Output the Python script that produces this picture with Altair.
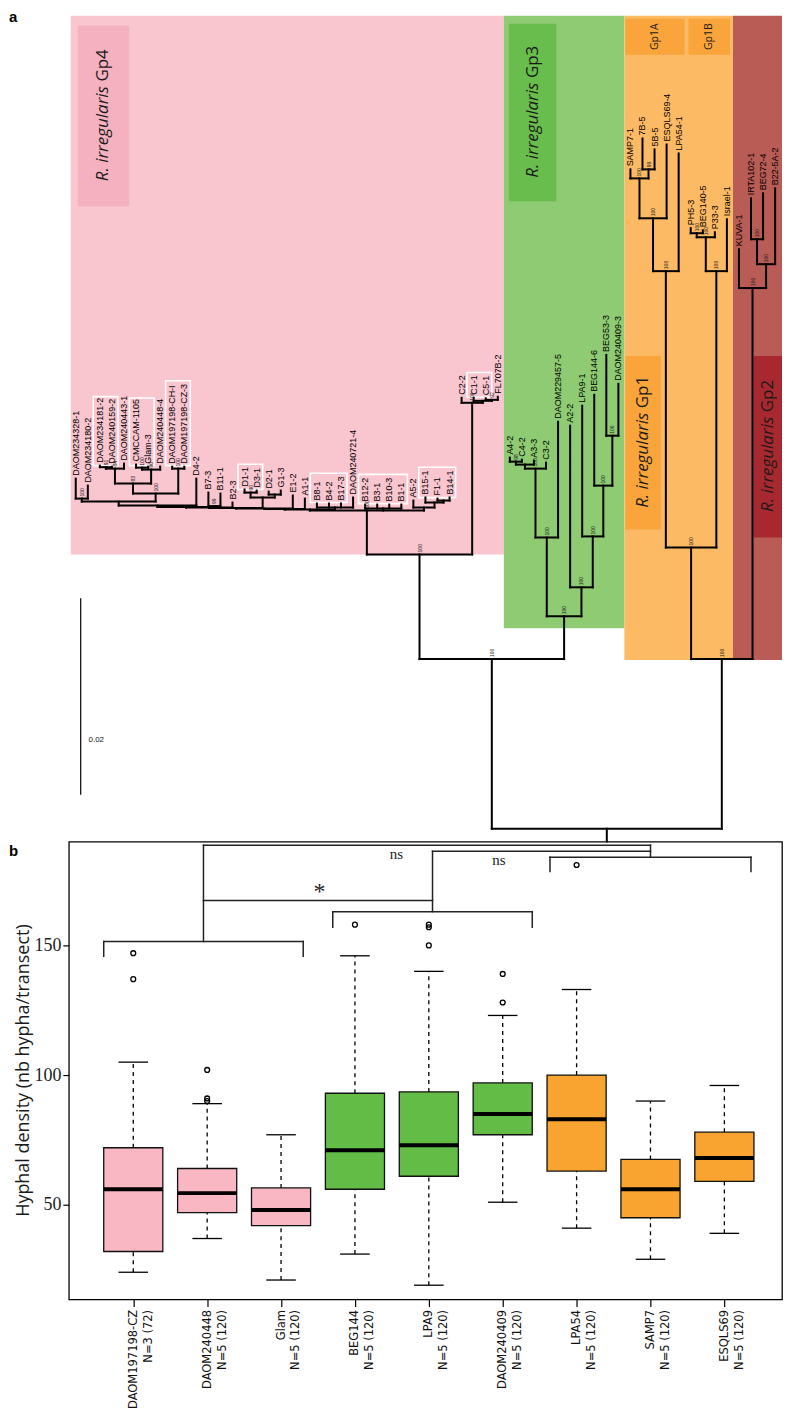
import altair as alt
import pandas as pd

# ===================== panel a : phylogeny =====================
leaf_names = [
    "DAOM234328-1", "DAOM234180-2", "DAOM234181-2", "DAOM240159-2", "DAOM240443-1",
    "CMCCAM-1105", "Glam-3", "DAOM240448-4", "DAOM197198-CH-I", "DAOM197198-CZ-3",
    "D4-2", "B7-3", "B11-1", "B2-3", "D1-1", "D3-1", "D2-1", "G1-3", "E1-2", "A1-1",
    "B8-1", "B4-2", "B17-3", "DAOM240721-4", "B12-2", "B3-1", "B10-3", "B1-1",
    "A5-2", "B15-1", "F1-1", "B14-1", "C2-2", "C1-1", "C5-1", "FL707B-2",
    "A4-2", "C4-2", "A3-3", "C3-2", "DAOM229457-5", "A2-2", "LPA9-1", "BEG144-6",
    "BEG53-3", "DAOM240409-3",
    "SAMP7-1", "7B-5", "5B-5", "ESQLS69-4", "LPA54-1", "PH5-3", "BEG140-5", "P33-3",
    "Israel-1", "KUVA-1", "IRTA102-1", "BEG72-4", "B22-5A-2",
]
# distance of every tip from the root (substitutions / site)
leaf_dist = [
    0.03563, 0.03492, 0.03695, 0.03685, 0.03716,
    0.03706, 0.03685, 0.03685, 0.03685, 0.03685,
    0.03563, 0.03421, 0.03411, 0.03320, 0.03452, 0.03442, 0.03431, 0.03442, 0.03391, 0.03360,
    0.03310, 0.03310, 0.03310, 0.03371, 0.03299, 0.03299, 0.03299, 0.03299,
    0.03340, 0.03371, 0.03360, 0.03371, 0.04386, 0.04386, 0.04381, 0.04396,
    0.03777, 0.03756, 0.03746, 0.03726, 0.04142, 0.04102, 0.04305, 0.04416,
    0.04822, 0.04528,
    0.06711, 0.07025, 0.06914, 0.06964, 0.06873, 0.06112, 0.06091, 0.06071,
    0.06203, 0.05898, 0.06416, 0.06467, 0.06518,
]
# internal nodes: (name, children, distance from root, bootstrap)
internal_nodes = [
    ("P1", ["DAOM234328-1", "DAOM234180-2"], 0.03360, "100"),
    ("P2a", ["DAOM234181-2", "DAOM240159-2"], 0.03680, "91"),
    ("P2", ["P2a", "DAOM240443-1"], 0.03665, "84"),
    ("P3a", ["CMCCAM-1105", "Glam-3"], 0.03675, "100"),
    ("P3", ["P3a", "DAOM240448-4"], 0.03655, "90"),
    ("P4", ["DAOM197198-CH-I", "DAOM197198-CZ-3"], 0.03665, "100"),
    ("P23", ["P2", "P3"], 0.03513, "83"),
    ("P234", ["P23", "P4"], 0.03411, "100"),
    ("P1234", ["P1", "P234"], 0.03330, ""),
    ("P5", ["P1234", "D4-2"], 0.03289, ""),
    ("P6", ["B7-3", "B11-1"], 0.03284, "99"),
    ("Q1", ["P5", "P6"], 0.03274, ""),
    ("Q2", ["Q1", "B2-3"], 0.03269, ""),
    ("P7a", ["D1-1", "D3-1"], 0.03421, "90"),
    ("P7c", ["D2-1", "G1-3"], 0.03401, ""),
    ("P7", ["P7a", "P7c"], 0.03371, ""),
    ("Q3", ["Q2", "P7"], 0.03264, ""),
    ("Q4", ["Q3", "E1-2"], 0.03259, ""),
    ("Q5", ["Q4", "A1-1"], 0.03254, ""),
    ("Bc1", ["B8-1", "B4-2", "B17-3", "DAOM240721-4"], 0.03269, ""),
    ("Q6", ["Q5", "Bc1"], 0.03249, ""),
    ("Bc2", ["B12-2", "B3-1", "B10-3", "B1-1"], 0.03259, ""),
    ("P9b", ["F1-1", "B14-1"], 0.03340, ""),
    ("P9a", ["B15-1", "P9b"], 0.03320, ""),
    ("P9", ["A5-2", "P9a"], 0.03269, ""),
    ("NB", ["Q6", "Bc2", "P9"], 0.03239, "100"),
    ("Cc", ["C5-1", "FL707B-2"], 0.04365, "92"),
    ("Cb", ["C1-1", "Cc"], 0.04355, ""),
    ("Ca", ["C2-2", "Cb"], 0.04335, "100"),
    ("Gp4", ["NB", "Ca"], 0.02792, "100"),
    ("G3n1", ["A4-2", "C4-2"], 0.03736, "98"),
    ("G3n2", ["G3n1", "A3-3"], 0.03706, ""),
    ("G3a", ["G3n2", "C3-2"], 0.03665, "100"),
    ("G3b", ["G3a", "DAOM229457-5"], 0.02964, "100"),
    ("G3c", ["BEG53-3", "DAOM240409-3"], 0.04000, "100"),
    ("G3d", ["BEG144-6", "G3c"], 0.03492, "100"),
    ("G3e", ["LPA9-1", "G3d"], 0.02975, "100"),
    ("G3f", ["A2-2", "G3e"], 0.02457, "100"),
    ("Gp3", ["G3b", "G3f"], 0.02162, "100"),
    ("L", ["Gp4", "Gp3"], 0.01726, "100"),
    ("A1", ["7B-5", "5B-5"], 0.06711, "99"),
    ("A2", ["SAMP7-1", "A1"], 0.06619, "100"),
    ("A3", ["A2", "ESQLS69-4"], 0.06213, "100"),
    ("Gp1A", ["A3", "LPA54-1"], 0.05675, "100"),
    ("B1", ["PH5-3", "BEG140-5"], 0.06061, "100"),
    ("B2", ["B1", "P33-3"], 0.06020, "100"),
    ("Gp1B", ["B2", "Israel-1"], 0.05675, "100"),
    ("Gp1", ["Gp1A", "Gp1B"], 0.02863, "100"),
    ("R2a", ["IRTA102-1", "BEG72-4"], 0.06000, "100"),
    ("R2b", ["R2a", "B22-5A-2"], 0.05746, "100"),
    ("Gp2", ["KUVA-1", "R2b"], 0.05503, "100"),
    ("R", ["Gp1", "Gp2"], 0.01726, "100"),
    ("root", ["L", "R"], 0.0, ""),
]
root_edge = 0.0013

# coloured clade areas (leaf-index units / distance units)
region_names = ["Gp4", "Gp3", "Gp1", "Gp2"]
region_from = [-0.41, 35.5, 45.5, 54.5]
region_to = [35.5, 45.5, 54.5, 58.57]
region_bottom = [0.02792, 0.02041, 0.01716, 0.01716]
region_top = 0.08274
region_colors = ["#F9C5CF", "#8ECB73", "#FCBA64", "#B85C55"]

# darker label boxes
lab_group = ["Gp4", "Gp3", "Gp1", "Gp2"]
lab_x0 = [0.16, 35.92, 45.58, 56.22]
lab_x1 = [4.42, 39.85, 48.53, 58.57]
lab_y0 = [0.06335, 0.06386, 0.03046, 0.02964]
lab_y1 = [0.08173, 0.08193, 0.04812, 0.04812]
lab_colors = ["#F5B1BF", "#68BD4C", "#F9A53B", "#A8282F"]

sub_names = ["Gp1A", "Gp1B"]
sub_x0 = [45.58, 50.82]
sub_x1 = [50.49, 54.26]
sub_y0 = [0.07878, 0.07878]
sub_y1 = [0.08244, 0.08244]
sub_color = "#F9A53B"

# tips whose labels are framed in white
framed_groups = [
    ("DAOM234181-2", "DAOM240159-2"), ("CMCCAM-1105", "Glam-3"),
    ("DAOM197198-CH-I", "DAOM197198-CZ-3"), ("D1-1", "D3-1"),
    ("B8-1", "B17-3"), ("B12-2", "B1-1"), ("B15-1", "B14-1"), ("C1-1", "C5-1"),
]

scalebar_x = 0.41
scalebar_from = 0.00345
scalebar_len = 0.02
scalebar_label = "0.02"

# ---- derived geometry ----
PX_PER_UNIT = 9850.0
LEAF_FS = 9

xpos = {n: float(i) for i, n in enumerate(leaf_names)}
hgt = dict(zip(leaf_names, leaf_dist))
for name, kids, d, sup in internal_nodes:
    hgt[name] = d
    xpos[name] = (xpos[kids[0]] + xpos[kids[-1]]) / 2.0

seg_rows = []
for name, kids, d, sup in internal_nodes:
    seg_rows.append(dict(x=xpos[kids[0]], x2=xpos[kids[-1]], y=d, y2=d))
    for k in kids:
        seg_rows.append(dict(x=xpos[k], x2=xpos[k], y=d, y2=hgt[k]))
seg_rows.append(dict(x=xpos["root"], x2=xpos["root"], y=0.0, y2=-root_edge))
seg_df = pd.DataFrame(seg_rows)

leaf_df = pd.DataFrame({"x": range(len(leaf_names)), "y": leaf_dist, "label": leaf_names})
sup_df = pd.DataFrame([dict(x=xpos[n], y=d, label=s) for n, k, d, s in internal_nodes if s])


def text_w(s, fs):
    w = 0.0
    for c in s:
        if c.isupper():
            w += 0.70
        elif c.isdigit():
            w += 0.556
        elif c == "-":
            w += 0.333
        elif c.islower():
            w += 0.52
        else:
            w += 0.3
    return w * fs


frame_rows = []
for a, b in framed_groups:
    i0, i1 = leaf_names.index(a), leaf_names.index(b)
    tips = leaf_dist[i0:i1 + 1]
    tops = [leaf_dist[i] + (3 + text_w(leaf_names[i], LEAF_FS) + 3) / PX_PER_UNIT
            for i in range(i0, i1 + 1)]
    frame_rows.append(dict(x0=i0 - 0.55, x1=i1 + 0.5,
                           y0=min(tips) + 1 / PX_PER_UNIT, y1=max(tops)))
frame_df = pd.DataFrame(frame_rows)

region_df = pd.DataFrame({"g": region_names, "x0": region_from, "x1": region_to,
                          "y0": region_bottom, "y1": [region_top] * 4, "c": region_colors})
lab_df = pd.DataFrame({"g": lab_group, "x0": lab_x0, "x1": lab_x1, "y0": lab_y0,
                       "y1": lab_y1, "c": lab_colors})
lab_df["xm"] = (lab_df.x0 + lab_df.x1) / 2
lab_df["ym"] = (lab_df.y0 + lab_df.y1) / 2
lab_df["it"] = "R. irregularis"
sub_df = pd.DataFrame({"g": sub_names, "x0": sub_x0, "x1": sub_x1, "y0": sub_y0, "y1": sub_y1})
sub_df["xm"] = (sub_df.x0 + sub_df.x1) / 2
sub_df["ym"] = (sub_df.y0 + sub_df.y1) / 2
sb_df = pd.DataFrame({"x": [scalebar_x], "y": [scalebar_from], "y2": [scalebar_from + scalebar_len],
                      "lx": [scalebar_x + 0.65], "ly": [scalebar_from + 0.28 * scalebar_len],
                      "t": [scalebar_label]})

TX = alt.Scale(domain=[-0.573, 58.57], nice=False, zero=False)
TY = alt.Scale(domain=[-0.00132, 0.08335], nice=False, zero=False)


def tx(f):
    return alt.X(f, type="quantitative", scale=TX, axis=None)


def ty(f):
    return alt.Y(f, type="quantitative", scale=TY, axis=None)


regions = alt.Chart(region_df).mark_rect().encode(
    x=tx("x0"), x2="x1", y=ty("y0"), y2="y1", color=alt.Color("c:N", scale=None))
labboxes = alt.Chart(lab_df).mark_rect().encode(
    x=tx("x0"), x2="x1", y=ty("y0"), y2="y1", color=alt.Color("c:N", scale=None))
subboxes = alt.Chart(sub_df).mark_rect(color=sub_color).encode(
    x=tx("x0"), x2="x1", y=ty("y0"), y2="y1")
frames = alt.Chart(frame_df).mark_rect(fill=None, stroke="white", strokeWidth=1.6).encode(
    x=tx("x0"), x2="x1", y=ty("y0"), y2="y1")
branches = alt.Chart(seg_df).mark_rule(color="black", strokeWidth=2, strokeCap="square").encode(
    x=tx("x"), x2="x2", y=ty("y"), y2="y2")
leaf_text = alt.Chart(leaf_df).mark_text(
    angle=270, align="left", baseline="middle", dx=3, font="Liberation Sans",
    fontSize=LEAF_FS, color="#000").encode(x=tx("x"), y=ty("y"), text="label:N")
sup_text = alt.Chart(sup_df).mark_text(
    angle=270, align="left", baseline="middle", dx=2, font="Liberation Sans",
    fontSize=5, color="#222").encode(x=tx("x"), y=ty("y"), text="label:N")
grp_it = alt.Chart(lab_df).mark_text(
    angle=270, align="right", baseline="middle", dx=30, font="Open Sans", fontSize=17,
    fontStyle="italic", color="#1a1a1a").encode(x=tx("xm"), y=ty("ym"), text="it:N")
grp_gp = alt.Chart(lab_df).mark_text(
    angle=270, align="left", baseline="middle", dx=34.5, font="Open Sans", fontSize=17,
    color="#1a1a1a").encode(x=tx("xm"), y=ty("ym"), text="g:N")
sub_text = alt.Chart(sub_df).mark_text(
    angle=270, align="center", baseline="middle", font="Open Sans", fontSize=10.5,
    color="#1a1a1a").encode(x=tx("xm"), y=ty("ym"), text="g:N")
sbar = alt.Chart(sb_df).mark_rule(color="black", strokeWidth=1.2).encode(
    x=tx("x"), y=ty("y"), y2="y2")
sbar_t = alt.Chart(sb_df).mark_text(align="left", baseline="middle", font="Liberation Sans",
                                    fontSize=8, color="#111").encode(
    x=tx("lx"), y=ty("ly"), text="t:N")
panel_a = alt.Chart(pd.DataFrame({"t": ["a"]})).mark_text(
    align="left", baseline="top", font="Liberation Sans", fontSize=15, fontWeight="bold",
    color="black").encode(x=alt.value(-60), y=alt.value(0), text="t:N")

tree = alt.layer(regions, labboxes, subboxes, frames, branches, leaf_text, sup_text,
                 grp_it, grp_gp, sub_text, sbar, sbar_t, panel_a).properties(
    width=715, height=834, view=alt.ViewBackground(stroke=None))

# ===================== panel b : boxplots =====================
cats = ["DAOM197198-CZ", "DAOM240448", "Glam", "BEG144", "LPA9", "DAOM240409",
        "LPA54", "SAMP7", "ESQLS69"]
n_labels = ["N=3 (72)", "N=5 (120)", "N=5 (120)", "N=5 (120)", "N=5 (120)",
            "N=5 (120)", "N=5 (120)", "N=5 (120)", "N=5 (120)"]
groups = ["Gp4", "Gp4", "Gp4", "Gp3", "Gp3", "Gp3", "Gp1", "Gp1", "Gp1"]
lower = [24, 37, 21, 31, 19, 51, 41, 29, 39]
q1 = [32, 47, 42, 56, 61, 77, 63, 45, 59]
median = [56, 54.5, 48, 71, 73, 85, 83, 56, 68]
q3 = [72, 64, 56.5, 93, 93.5, 97, 100, 67.5, 78]
upper = [105, 89, 77, 146, 140, 123, 133, 90, 96]
out_cat = [0, 0, 1, 1, 1, 3, 4, 4, 4, 5, 5, 6]
out_val = [147, 137, 102, 91, 90, 158, 157, 158, 150, 139, 128, 181]
group_fill = {"Gp4": "#F8B7C3", "Gp3": "#62BC46", "Gp1": "#F9A431"}

# significance brackets: (group, from, to, level, drop)
br_group = ["Gp4", "Gp3", "Gp1"]
br_from = [-0.4, 2.7, 5.64]
br_to = [2.3, 5.4, 8.36]
br_level = [151.5, 163, 184]
br_drop = [145.8, 157, 178.5]
# comparisons between groups: (a, b, level, label, label x, label y)
cmp_a = ["Gp4", "Gp3", "Gp4"]
cmp_b = ["Gp3", "Gp1", "Gp1"]
cmp_level = [167.3, 186.3, 188.6]
cmp_label = ["*", "ns", "ns"]
cmp_lx = [2.52, 4.95, 3.56]
cmp_ly = [170.5, 183.0, 185.4]
cmp_size = [24, 15, 15]

box_df = pd.DataFrame({"i": range(9), "cat": cats, "lo": lower, "q1": q1, "med": median,
                       "q3": q3, "hi": upper, "g": groups})
box_df["c"] = box_df.g.map(group_fill)
box_df["xl"] = box_df.i - 0.4
box_df["xr"] = box_df.i + 0.4
box_df["cl"] = box_df.i - 0.2
box_df["cr"] = box_df.i + 0.2
out_df = pd.DataFrame({"i": out_cat, "v": out_val})

mid = {g: (a + b) / 2 for g, a, b in zip(br_group, br_from, br_to)}
brk = []
for g, a, b, l, d in zip(br_group, br_from, br_to, br_level, br_drop):
    brk.append(dict(x=a, x2=b, y=l, y2=l))
    brk.append(dict(x=a, x2=a, y=l, y2=d))
    brk.append(dict(x=b, x2=b, y=l, y2=d))
    top = max(cl for ca, cb, cl in zip(cmp_a, cmp_b, cmp_level) if g in (ca, cb))
    brk.append(dict(x=mid[g], x2=mid[g], y=l, y2=top))
for ca, cb, cl in zip(cmp_a, cmp_b, cmp_level):
    brk.append(dict(x=mid[ca], x2=mid[cb], y=cl, y2=cl))
brk_df = pd.DataFrame(brk)
sig_df = pd.DataFrame({"t": cmp_label, "x": cmp_lx, "y": cmp_ly, "s": cmp_size})

BX = alt.Scale(domain=[-0.872, 8.78], nice=False, zero=False)
BY = alt.Scale(domain=[13.5, 190], nice=False, zero=False)
label_expr = "[" + ",".join(f"['{c}','{n}']" for c, n in zip(cats, n_labels)) + "][datum.value]"

X_AXIS = alt.Axis(values=list(range(9)), labelExpr=label_expr, labelAngle=270,
                  labelAlign="right", labelBaseline="middle", tickSize=7, tickColor="black",
                  tickWidth=1.2, domain=False, grid=False, labelFont="DejaVu Sans",
                  labelFontSize=11.5, labelColor="#111", labelPadding=3, labelLineHeight=15,
                  title=None, labelOverlap=False, labelFlush=False, labelBound=False)
Y_AXIS = alt.Axis(values=[50, 100, 150], tickSize=6, tickColor="black", tickWidth=1.2,
                  domain=False, grid=False, labelFont="Liberation Serif", labelFontSize=18,
                  labelColor="#222", labelPadding=2,
                  title="Hyphal density (nb hypha/transect)", titleFont="Open Sans",
                  titleFontSize=18, titleFontWeight="normal", titleColor="#1a1a1a",
                  titleX=-40, titleY=229, titleAngle=270, titleAlign="center",
                  titleBaseline="alphabetic")


def bx(f):
    return alt.X(f, type="quantitative", scale=BX, axis=X_AXIS)


def by(f):
    return alt.Y(f, type="quantitative", scale=BY, axis=Y_AXIS)


w_up = alt.Chart(box_df).mark_rule(color="black", strokeWidth=1.3, strokeDash=[4, 4]).encode(
    x=bx("i"), y=by("q3"), y2="hi")
w_lo = alt.Chart(box_df).mark_rule(color="black", strokeWidth=1.3, strokeDash=[4, 4]).encode(
    x=bx("i"), y=by("lo"), y2="q1")
cap_up = alt.Chart(box_df).mark_rule(color="black", strokeWidth=1.3).encode(
    x=bx("cl"), x2="cr", y=by("hi"))
cap_lo = alt.Chart(box_df).mark_rule(color="black", strokeWidth=1.3).encode(
    x=bx("cl"), x2="cr", y=by("lo"))
boxes = alt.Chart(box_df).mark_rect(stroke="#111", strokeWidth=1.3).encode(
    x=bx("xl"), x2="xr", y=by("q1"), y2="q3", fill=alt.Fill("c:N", scale=None))
meds = alt.Chart(box_df).mark_rule(color="black", strokeWidth=4).encode(
    x=bx("xl"), x2="xr", y=by("med"))
outs = alt.Chart(out_df).mark_point(shape="circle", filled=False, size=24, color="black",
                                    strokeWidth=1.3, opacity=1).encode(x=bx("i"), y=by("v"))
brackets = alt.Chart(brk_df).mark_rule(color="#222", strokeWidth=1.5, strokeCap="square").encode(
    x=bx("x"), x2="x2", y=by("y"), y2="y2")
sig = alt.Chart(sig_df).mark_text(font="Liberation Serif", color="#222",
                                  baseline="middle", align="center").encode(
    x=bx("x"), y=by("y"), text="t:N", size=alt.Size("s:Q", scale=None, legend=None))
panel_b = alt.Chart(pd.DataFrame({"t": ["b"]})).mark_text(
    align="left", baseline="top", font="Liberation Sans", fontSize=15, fontWeight="bold",
    color="black").encode(x=alt.value(-60), y=alt.value(2), text="t:N")

box = alt.layer(w_up, w_lo, cap_up, cap_lo, boxes, meds, outs, brackets, sig, panel_b).properties(
    width=715, height=459)

chart = alt.vconcat(tree, box, spacing=0, bounds="flush").resolve_scale(
    x="independent", y="independent").properties(
    padding={"left": 0, "top": 0, "right": 0, "bottom": 0}).configure_view(
    stroke="black", strokeWidth=1.3)

chart.save("out.html", embed_options={"renderer": "svg", "actions": False})
